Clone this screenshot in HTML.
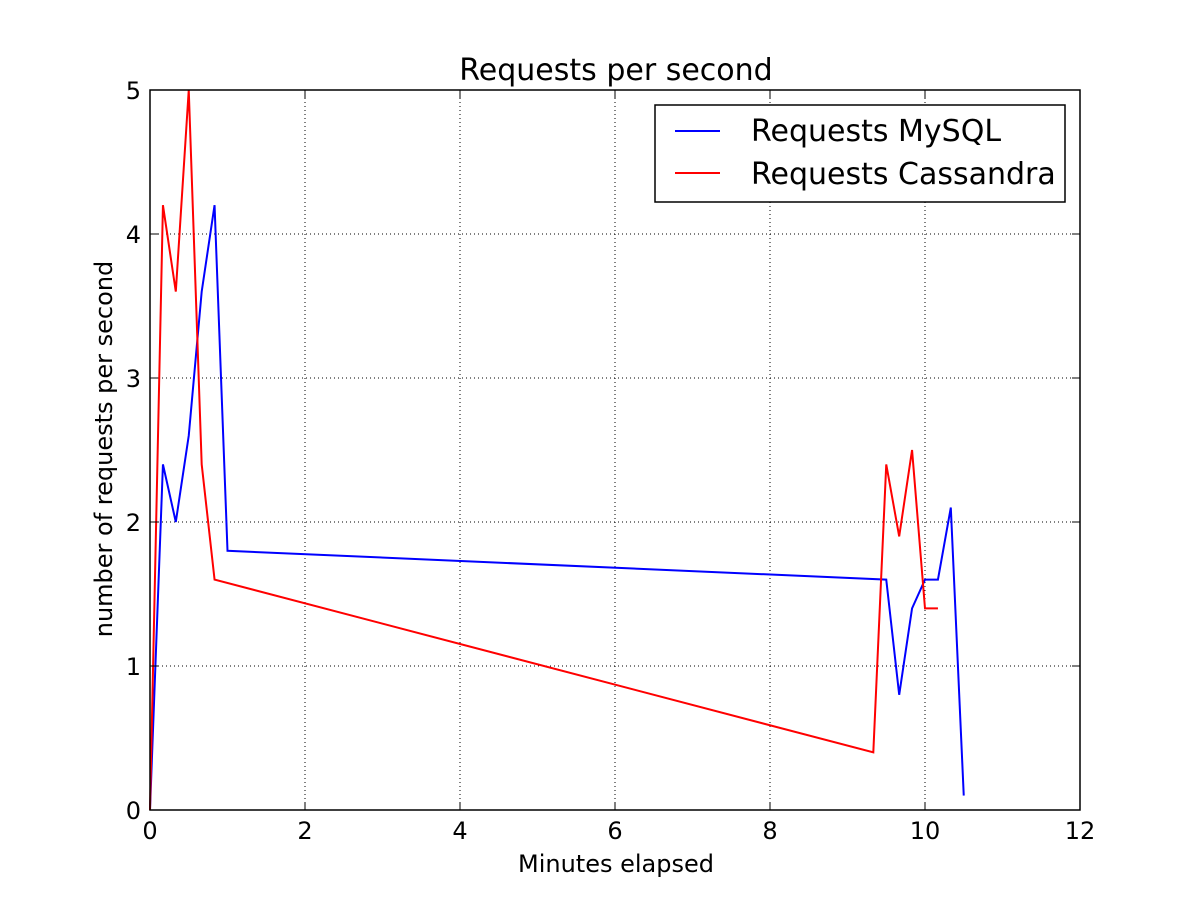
<!DOCTYPE html>
<html><head><meta charset="utf-8"><style>
body{margin:0;background:#fff;}
svg{display:block;font-family:"DejaVu Sans","Liberation Sans",sans-serif;}
</style></head><body>
<svg id="chart" width="1200" height="900" viewBox="0 0 1200 900">
<rect width="1200" height="900" fill="#fff"/>
<g id="grid"></g>
<g id="series"></g>
<rect x="150" y="90" width="930" height="720" fill="none" stroke="#000" stroke-width="1.5"/>
<g id="ticks"></g>
<text x="616" y="80" font-size="30" text-anchor="middle">Requests per second</text>
<text x="616" y="872" font-size="24" text-anchor="middle">Minutes elapsed</text>
<text transform="translate(112,449) rotate(-90)" font-size="24" text-anchor="middle">number of requests per second</text>
<g>
<rect x="655" y="105" width="410" height="97" fill="#fff" stroke="#000" stroke-width="1.5"/>
<g>
<line x1="675" y1="131" x2="720" y2="131" stroke="#0000ff" stroke-width="2"/>
<text x="751" y="141" font-size="30">Requests MySQL</text></g>
<g>
<line x1="675" y1="173" x2="720" y2="173" stroke="#ff0000" stroke-width="2"/>
<text x="751" y="184" font-size="30">Requests Cassandra</text></g>
</g>
</svg>
<script>
const xTicks=[0,2,4,6,8,10,12];
const yTicks=[0,1,2,3,4,5];
const mysqlX=[0,0.167,0.333,0.5,0.667,0.833,1.0,9.5,9.667,9.833,10,10.167,10.333,10.5];
const mysqlY=[0,2.4,2.0,2.6,3.6,4.2,1.8,1.6,0.8,1.4,1.6,1.6,2.1,0.1];
const cassX=[0,0.167,0.333,0.5,0.667,0.833,9.333,9.5,9.667,9.833,10,10.167];
const cassY=[0,4.2,3.6,5.0,2.4,1.6,0.4,2.4,1.9,2.5,1.4,1.4];
const NS="http://www.w3.org/2000/svg";
const sx=v=>150+v*930/12, sy=v=>810-v*144;
const grid=document.getElementById('grid'),ticks=document.getElementById('ticks'),ser=document.getElementById('series');
function mk(tag,attrs,parent){const e=document.createElementNS(NS,tag);for(const k in attrs)e.setAttribute(k,attrs[k]);parent.appendChild(e);return e;}
xTicks.forEach(t=>{
 const x=sx(t);
 const g=mk('line',{x1:x,x2:x,y1:90,y2:810,stroke:'#000','stroke-dasharray':'1,3','stroke-width':1},grid);
 
 
 mk('line',{x1:x,x2:x,y1:810,y2:802,stroke:'#000'},ticks);
 mk('line',{x1:x,x2:x,y1:90,y2:98,stroke:'#000'},ticks);
 const l=mk('text',{x:x,y:839,'font-size':24,'text-anchor':'middle'},ticks);l.textContent=t;
 
 
});
yTicks.forEach(t=>{
 const y=sy(t);
 const g=mk('line',{x1:150,x2:1080,y1:y,y2:y,stroke:'#000','stroke-dasharray':'1,3','stroke-width':1},grid);
 
 
 mk('line',{x1:150,x2:158,y1:y,y2:y,stroke:'#000'},ticks);
 mk('line',{x1:1072,x2:1080,y1:y,y2:y,stroke:'#000'},ticks);
 const l=mk('text',{x:141,y:y+9,'font-size':24,'text-anchor':'end'},ticks);l.textContent=t;
 
 
});
function line(xs,ys,color,name){
 const p=mk('polyline',{points:xs.map((x,i)=>sx(x)+','+sy(ys[i])).join(' '),fill:'none',stroke:color,'stroke-width':2},ser);
 
 
}
line(mysqlX,mysqlY,'#0000ff','mysql-line');
line(cassX,cassY,'#ff0000','cassandra-line');
</script>
</body></html>
